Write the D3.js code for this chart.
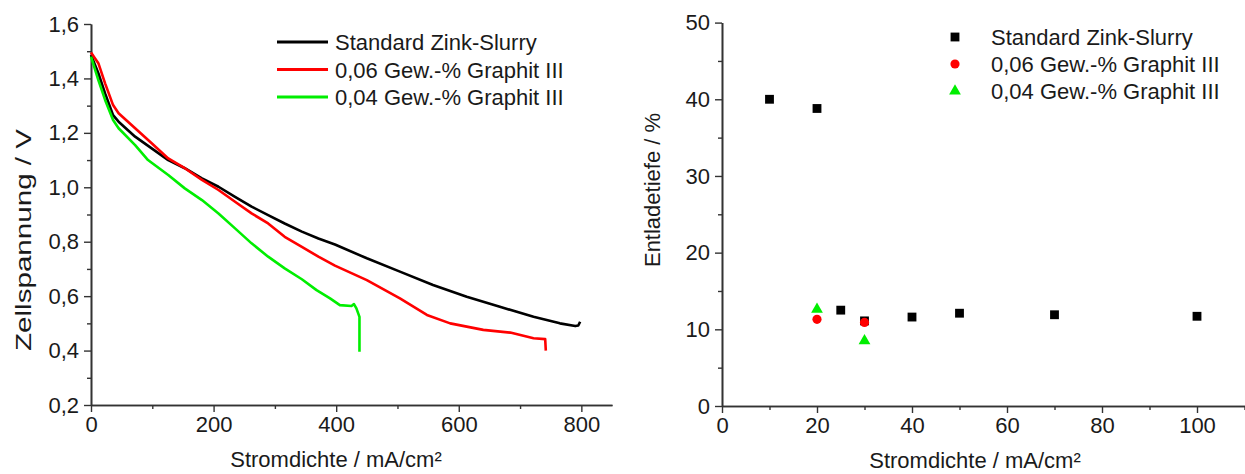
<!DOCTYPE html>
<html>
<head>
<meta charset="utf-8">
<script src="https://cdn.jsdelivr.net/npm/d3@7"></script>
<style>
  body { margin: 0; background: #fff; }
  svg { display: block; font-family: "Liberation Sans", Arial, sans-serif; }
</style>
</head>
<body>
<div id="chart"></div>
<script>
// left panel: polarisation curves [mA/cm², V]
const seriesNames = ["Standard Zink-Slurry", "0,06 Gew.-% Graphit III", "0,04 Gew.-% Graphit III"];
const seriesColors = ["#000000", "#ff0000", "#00ee00"];

const curveStandard = [
  [0, 1.486], [12, 1.419], [23, 1.345], [36, 1.265], [45, 1.241], [72, 1.186], [99, 1.143],
  [126, 1.100], [153, 1.070], [181, 1.033], [208, 1.002], [235, 0.965], [262, 0.929],
  [289, 0.898], [316, 0.867], [344, 0.837], [371, 0.812], [398, 0.790], [450, 0.739],
  [504, 0.690], [558, 0.641], [613, 0.598], [667, 0.561], [722, 0.524], [765, 0.500],
  [790, 0.490], [795, 0.492], [798, 0.506]
];
const curveG006 = [
  [0, 1.495], [12, 1.456], [23, 1.382], [36, 1.302], [45, 1.272], [72, 1.217], [99, 1.162],
  [126, 1.106], [153, 1.070], [181, 1.027], [208, 0.990], [235, 0.947], [262, 0.904],
  [289, 0.867], [316, 0.818], [344, 0.781], [371, 0.745], [398, 0.712], [450, 0.659],
  [504, 0.592], [548, 0.531], [586, 0.500], [640, 0.476], [684, 0.466], [722, 0.445],
  [741, 0.442], [742, 0.400]
];
const curveG004 = [
  [0, 1.480], [12, 1.394], [23, 1.321], [36, 1.247], [45, 1.217], [72, 1.155], [93, 1.100],
  [99, 1.090], [126, 1.045], [153, 0.996], [181, 0.953], [208, 0.904], [235, 0.849],
  [262, 0.794], [289, 0.745], [316, 0.702], [344, 0.662], [368, 0.622], [390, 0.592],
  [406, 0.567], [425, 0.564], [429, 0.571], [433, 0.555], [438, 0.524], [438, 0.396]
];

// right panel: depth of discharge [mA/cm², %]
const dodStandardX = [10, 20, 25, 30, 40, 50, 70, 100];
const dodStandardY = [40.0, 38.8, 12.5, 11.1, 11.6, 12.1, 11.9, 11.7];
const dodG006X = [20, 30];
const dodG006Y = [11.3, 10.9];
const dodG004X = [20, 30];
const dodG004Y = [12.6, 8.5];

const leftYTicks = [0.2, 0.4, 0.6, 0.8, 1.0, 1.2, 1.4, 1.6];
const leftXTicks = [0, 200, 400, 600, 800];
const rightYTicks = [0, 10, 20, 30, 40, 50];
const rightXTicks = [0, 20, 40, 60, 80, 100];

const W = 1245, H = 474;
const textColor = "#1a1a1a";
const axisColor = "#333";
const fontSize = 22;

const svg = d3.select("#chart").append("svg")
    .attr("width", W)
    .attr("height", H);

const fmtComma = d => d3.format(".1f")(d).replace(".", ",");

function drawAxes(x, y, xTicks, xMinor, yTicks, yMinor, yFmt) {
    const g = svg.append("g");

    g.append("g")
        .attr("transform", `translate(0,${y.range()[0]})`)
        .call(d3.axisBottom(x).tickValues(xTicks).tickSize(7).tickPadding(4).tickSizeOuter(0));
    g.append("g")
        .attr("transform", `translate(${x.range()[0]},0)`)
        .call(d3.axisLeft(y).tickValues(yTicks).tickSize(7).tickPadding(5).tickFormat(yFmt).tickSizeOuter(0));

    // minor ticks
    g.append("g")
        .attr("transform", `translate(0,${y.range()[0]})`)
        .call(d3.axisBottom(x).tickValues(xMinor).tickSize(4).tickFormat("").tickSizeOuter(0));
    g.append("g")
        .attr("transform", `translate(${x.range()[0]},0)`)
        .call(d3.axisLeft(y).tickValues(yMinor).tickSize(4).tickFormat("").tickSizeOuter(0));

    g.selectAll(".domain").attr("stroke", axisColor).attr("stroke-width", 1.6);
    g.selectAll(".tick line").attr("stroke", axisColor).attr("stroke-width", 1.4);
    g.selectAll(".tick text")
        .attr("fill", textColor)
        .style("font-size", fontSize + "px")
        .style("font-family", "'Liberation Sans', Arial, sans-serif");
    return g;
}

// ---------- left panel ----------
const xL = d3.scaleLinear().domain([0, 850]).range([91, 612]);
const yL = d3.scaleLinear().domain([0.2, 1.6]).range([405, 24]);

drawAxes(xL, yL, leftXTicks, [100, 300, 500, 700],
    leftYTicks, [0.3, 0.5, 0.7, 0.9, 1.1, 1.3, 1.5], fmtComma);

const line = d3.line().x(d => xL(d[0])).y(d => yL(d[1]));

[curveStandard, curveG006, curveG004].forEach((c, i) => {
    svg.append("path")
        .datum(c)
        .attr("fill", "none")
        .attr("stroke", seriesColors[i])
        .attr("stroke-width", 2.6)
        .attr("stroke-linejoin", "round")
        .attr("d", line);
});

svg.append("text")
    .attr("x", 336)
    .attr("y", 467)
    .attr("text-anchor", "middle")
    .attr("fill", textColor)
    .style("font-size", fontSize + "px")
    .text("Stromdichte / mA/cm²");

// the y title is drawn stretched in the original figure
svg.append("text")
    .attr("transform", "translate(31,240) rotate(-90)")
    .attr("text-anchor", "middle")
    .attr("textLength", 222)
    .attr("lengthAdjust", "spacingAndGlyphs")
    .attr("fill", textColor)
    .style("font-size", fontSize + "px")
    .text("Zellspannung / V");

// legend left
const legL = svg.append("g");
seriesNames.forEach((name, i) => {
    const yy = 42 + i * 27.5;
    legL.append("line")
        .attr("x1", 277).attr("x2", 328)
        .attr("y1", yy).attr("y2", yy)
        .attr("stroke", seriesColors[i])
        .attr("stroke-width", 3);
    legL.append("text")
        .attr("x", 335).attr("y", yy + 8)
        .attr("fill", textColor)
        .style("font-size", fontSize + "px")
        .text(name);
});

// ---------- right panel ----------
const xR = d3.scaleLinear().domain([0, 110]).range([722, 1244.5]);
const yR = d3.scaleLinear().domain([0, 50]).range([406, 22.6]);

drawAxes(xR, yR, rightXTicks, [10, 30, 50, 70, 90, 110],
    rightYTicks, [5, 15, 25, 35, 45], d3.format("d"));

const squarePath = d3.symbol(d3.symbolSquare, 78)();
const circlePath = d3.symbol(d3.symbolCircle, 66)();
const trianglePath = d3.symbol(d3.symbolTriangle, 60)();

svg.append("g").selectAll("path")
    .data(dodStandardX.map((v, i) => [v, dodStandardY[i]]))
    .join("path")
    .attr("d", squarePath)
    .attr("fill", "#000")
    .attr("transform", d => `translate(${xR(d[0])},${yR(d[1])})`);

svg.append("g").selectAll("path")
    .data(dodG006X.map((v, i) => [v, dodG006Y[i]]))
    .join("path")
    .attr("d", circlePath)
    .attr("fill", "#ff0000")
    .attr("transform", d => `translate(${xR(d[0])},${yR(d[1])})`);

svg.append("g").selectAll("path")
    .data(dodG004X.map((v, i) => [v, dodG004Y[i]]))
    .join("path")
    .attr("d", trianglePath)
    .attr("fill", "#00ee00")
    .attr("transform", d => `translate(${xR(d[0])},${yR(d[1])})`);

svg.append("text")
    .attr("x", 975)
    .attr("y", 468)
    .attr("text-anchor", "middle")
    .attr("fill", textColor)
    .style("font-size", fontSize + "px")
    .text("Stromdichte / mA/cm²");

svg.append("text")
    .attr("transform", "translate(660,190) rotate(-90)")
    .attr("text-anchor", "middle")
    .attr("fill", textColor)
    .style("font-size", fontSize + "px")
    .text("Entladetiefe / %");

// legend right
const legR = svg.append("g");
const legMarks = [squarePath, circlePath, trianglePath];
seriesNames.forEach((name, i) => {
    const yy = 37 + i * 27;
    legR.append("path")
        .attr("d", legMarks[i])
        .attr("fill", i === 0 ? "#000" : seriesColors[i])
        .attr("transform", `translate(955,${yy})`);
    legR.append("text")
        .attr("x", 991).attr("y", yy + 8)
        .attr("fill", textColor)
        .style("font-size", fontSize + "px")
        .text(name);
});
</script>
</body>
</html>
